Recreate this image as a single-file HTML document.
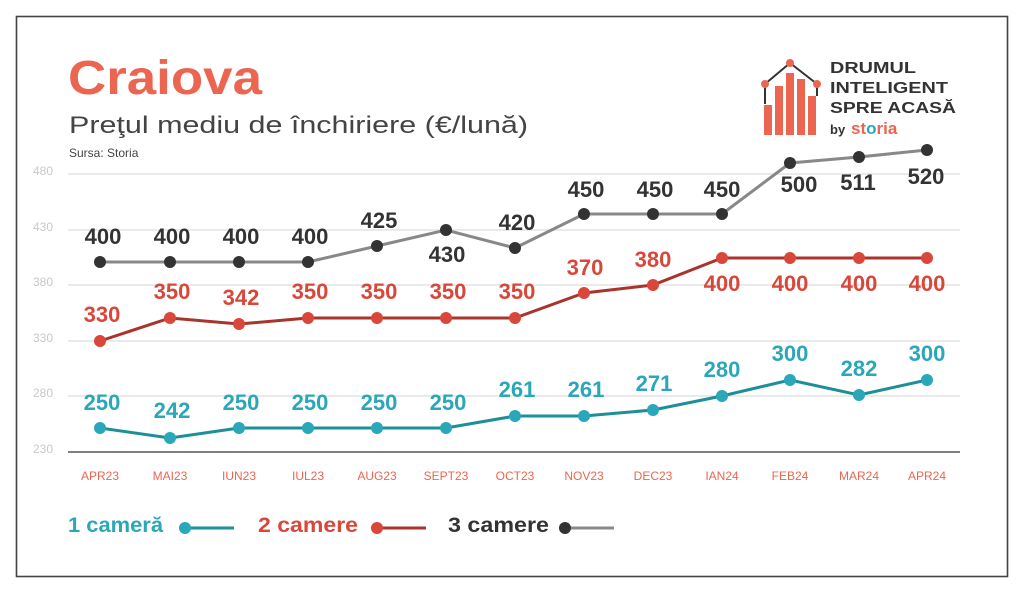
<!DOCTYPE html>
<html><head><meta charset="utf-8"><style>
html,body{margin:0;padding:0;background:#fff;}
svg{display:block;font-family:"Liberation Sans",sans-serif;}
</style></head><body>
<svg width="1024" height="593" viewBox="0 0 1024 593" xmlns="http://www.w3.org/2000/svg">
<rect x="0" y="0" width="1024" height="593" fill="#fff"/>
<rect x="16.5" y="16.5" width="991" height="560" fill="none" stroke="#444" stroke-width="1.6"/>
<text x="68" y="94" font-size="48" font-weight="bold" fill="#ec6550" textLength="194" lengthAdjust="spacingAndGlyphs">Craiova</text>
<text x="69" y="133" font-size="24" fill="#444" textLength="459" lengthAdjust="spacingAndGlyphs">Preţul mediu de închiriere (€/lună)</text>
<text x="69" y="157" font-size="12" fill="#444">Sursa: Storia</text>
<g fill="#ec6550">
<rect x="764" y="105" width="8" height="30"/><rect x="775" y="86" width="8" height="49"/>
<rect x="786" y="73" width="8" height="62"/><rect x="797" y="79" width="8" height="56"/><rect x="808" y="96" width="8" height="39"/>
</g>
<polyline points="765,84 790,63 817,84" fill="none" stroke="#333" stroke-width="2"/>
<line x1="765" y1="84" x2="765" y2="104" stroke="#333" stroke-width="2"/>
<line x1="817" y1="84" x2="817" y2="96" stroke="#333" stroke-width="2"/>
<circle cx="765" cy="84" r="4" fill="#ec6550"/><circle cx="790" cy="63" r="4" fill="#ec6550"/><circle cx="817" cy="84" r="4" fill="#ec6550"/>
<g font-size="16" font-weight="bold" fill="#333">
<text x="830" y="73" textLength="86" lengthAdjust="spacingAndGlyphs">DRUMUL</text>
<text x="830" y="93" textLength="118" lengthAdjust="spacingAndGlyphs">INTELIGENT</text>
<text x="830" y="113" textLength="126" lengthAdjust="spacingAndGlyphs">SPRE ACASĂ</text>
</g>
<text x="830" y="134" font-size="13" font-weight="bold" fill="#333">by</text>
<text x="851" y="134" font-size="17" font-weight="bold" fill="#ec6550">st<tspan fill="#2aa7b8">o</tspan>ria</text>
<g stroke="#ddd" stroke-width="1.2">
<line x1="68" y1="174" x2="960" y2="174"/><line x1="68" y1="230" x2="960" y2="230"/>
<line x1="68" y1="285" x2="960" y2="285"/><line x1="68" y1="341" x2="960" y2="341"/>
<line x1="68" y1="396" x2="960" y2="396"/>
</g>
<line x1="68" y1="452" x2="960" y2="452" stroke="#333" stroke-width="1.2"/>
<g font-size="12" fill="#c8c8c8">
<text x="33" y="175">480</text><text x="33" y="231">430</text><text x="33" y="286">380</text>
<text x="33" y="342">330</text><text x="33" y="397">280</text><text x="33" y="453">230</text>
</g>
<g font-size="12" fill="#ec6550" text-anchor="middle">
<text x="100" y="480">APR23</text><text x="170" y="480">MAI23</text><text x="239" y="480">IUN23</text>
<text x="308" y="480">IUL23</text><text x="377" y="480">AUG23</text><text x="446" y="480">SEPT23</text>
<text x="515" y="480">OCT23</text><text x="584" y="480">NOV23</text><text x="653" y="480">DEC23</text>
<text x="722" y="480">IAN24</text><text x="790" y="480">FEB24</text><text x="859" y="480">MAR24</text><text x="927" y="480">APR24</text>
</g>
<polyline points="100,262 170,262 239,262 308,262 377,246 446,230 515,248 584,214 653,214 722,214 790,163 859,157 927,150" fill="none" stroke="#888" stroke-width="3"/>
<g fill="#333">
<circle cx="100" cy="262" r="6"/><circle cx="170" cy="262" r="6"/><circle cx="239" cy="262" r="6"/><circle cx="308" cy="262" r="6"/>
<circle cx="377" cy="246" r="6"/><circle cx="446" cy="230" r="6"/><circle cx="515" cy="248" r="6"/><circle cx="584" cy="214" r="6"/>
<circle cx="653" cy="214" r="6"/><circle cx="722" cy="214" r="6"/><circle cx="790" cy="163" r="6"/><circle cx="859" cy="157" r="6"/><circle cx="927" cy="150" r="6"/>
</g>
<g font-size="22" font-weight="bold" fill="#333" text-anchor="middle">
<text x="103" y="244">400</text><text x="172" y="244">400</text><text x="241" y="244">400</text><text x="310" y="244">400</text>
<text x="379" y="228">425</text><text x="447" y="262">430</text><text x="517" y="230">420</text><text x="586" y="197">450</text>
<text x="655" y="197">450</text><text x="722" y="197">450</text><text x="799" y="192">500</text><text x="858" y="190">511</text><text x="926" y="184">520</text>
</g>
<polyline points="100,341 170,318 239,324 308,318 377,318 446,318 515,318 584,293 653,285 722,258 790,258 859,258 927,258" fill="none" stroke="#a8342c" stroke-width="3"/>
<g fill="#d9473b">
<circle cx="100" cy="341" r="6"/><circle cx="170" cy="318" r="6"/><circle cx="239" cy="324" r="6"/><circle cx="308" cy="318" r="6"/>
<circle cx="377" cy="318" r="6"/><circle cx="446" cy="318" r="6"/><circle cx="515" cy="318" r="6"/><circle cx="584" cy="293" r="6"/>
<circle cx="653" cy="285" r="6"/><circle cx="722" cy="258" r="6"/><circle cx="790" cy="258" r="6"/><circle cx="859" cy="258" r="6"/><circle cx="927" cy="258" r="6"/>
</g>
<g font-size="22" font-weight="bold" fill="#d9473b" text-anchor="middle">
<text x="102" y="322">330</text><text x="172" y="299">350</text><text x="241" y="305">342</text><text x="310" y="299">350</text>
<text x="379" y="299">350</text><text x="448" y="299">350</text><text x="517" y="299">350</text><text x="585" y="275">370</text>
<text x="653" y="267">380</text><text x="722" y="291">400</text><text x="790" y="291">400</text><text x="859" y="291">400</text><text x="927" y="291">400</text>
</g>
<polyline points="100,428 170,438 239,428 308,428 377,428 446,428 515,416 584,416 653,410 722,396 790,380 859,395 927,380" fill="none" stroke="#1d8f99" stroke-width="3"/>
<g fill="#2aa7b8">
<circle cx="100" cy="428" r="6"/><circle cx="170" cy="438" r="6"/><circle cx="239" cy="428" r="6"/><circle cx="308" cy="428" r="6"/>
<circle cx="377" cy="428" r="6"/><circle cx="446" cy="428" r="6"/><circle cx="515" cy="416" r="6"/><circle cx="584" cy="416" r="6"/>
<circle cx="653" cy="410" r="6"/><circle cx="722" cy="396" r="6"/><circle cx="790" cy="380" r="6"/><circle cx="859" cy="395" r="6"/><circle cx="927" cy="380" r="6"/>
</g>
<g font-size="22" font-weight="bold" fill="#2aa7b8" text-anchor="middle">
<text x="102" y="410">250</text><text x="172" y="418">242</text><text x="241" y="410">250</text><text x="310" y="410">250</text>
<text x="379" y="410">250</text><text x="448" y="410">250</text><text x="517" y="397">261</text><text x="586" y="397">261</text>
<text x="654" y="391">271</text><text x="722" y="377">280</text><text x="790" y="361">300</text><text x="859" y="376">282</text><text x="927" y="361">300</text>
</g>
<text x="68" y="532" font-size="21" font-weight="bold" fill="#2aa7b8" textLength="95" lengthAdjust="spacingAndGlyphs">1 cameră</text>
<line x1="185" y1="528" x2="234" y2="528" stroke="#1d8f99" stroke-width="3"/><circle cx="185" cy="528" r="6" fill="#2aa7b8"/>
<text x="258" y="532" font-size="21" font-weight="bold" fill="#d9473b" textLength="100" lengthAdjust="spacingAndGlyphs">2 camere</text>
<line x1="377" y1="528" x2="426" y2="528" stroke="#a8342c" stroke-width="3"/><circle cx="377" cy="528" r="6" fill="#d9473b"/>
<text x="448" y="532" font-size="21" font-weight="bold" fill="#333" textLength="101" lengthAdjust="spacingAndGlyphs">3 camere</text>
<line x1="565" y1="528" x2="614" y2="528" stroke="#888" stroke-width="3"/><circle cx="565" cy="528" r="6" fill="#333"/>
</svg>
</body></html>
